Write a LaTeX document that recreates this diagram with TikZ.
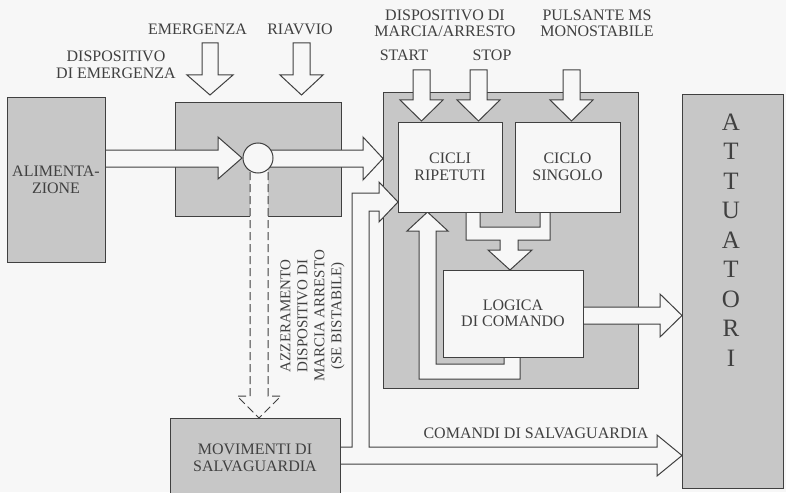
\documentclass[tikz,border=0pt]{standalone}
\usepackage{fontspec}
\setmainfont{Liberation Serif}
\definecolor{bg}{gray}{0.97}
\definecolor{shade}{gray}{0.78}
\definecolor{ink}{gray}{0.25}
\begin{document}
\begin{tikzpicture}[x=1pt,y=-1pt,
  every node/.style={text=ink, font=\fontsize{16}{16.5}\selectfont},
  graybox/.style={draw=ink, line width=1pt, fill=shade, inner sep=0pt, align=center},
  whitebox/.style={draw=ink, line width=1pt, fill=bg, inner sep=0pt, align=center},
  blockarrow/.style={draw=ink, line width=1pt, fill=bg, line join=miter},
  lbl/.style={align=center, inner sep=0pt}
]
\fill[bg] (0,0) rectangle (786,492);
\useasboundingbox (0,0) rectangle (786,492);

% background boxes
\node[graybox, minimum width=166pt, minimum height=113pt] (emerg) at (258,159.5) {};
\node[graybox, minimum width=255pt, minimum height=295pt] (main) at (510.5,240.5) {};

% input arrows from top
\draw[blockarrow] (202,43) -- (218,43) -- (218,75) -- (233,75) -- (210,95) -- (187,75) -- (202,75) -- cycle;
\draw[blockarrow] (293,43) -- (310,43) -- (310,75) -- (323,75) -- (301.5,95) -- (280,75) -- (293,75) -- cycle;
\draw[blockarrow] (413,70) -- (430,70) -- (430,100) -- (443,100) -- (421.5,121) -- (400,100) -- (413,100) -- cycle;
\draw[blockarrow] (470,70) -- (487,70) -- (487,100) -- (500,100) -- (478.5,121) -- (457,100) -- (470,100) -- cycle;
\draw[blockarrow] (563,70) -- (580,70) -- (580,100) -- (593,100) -- (571.5,121) -- (550,100) -- (563,100) -- cycle;

% alimentazione -> junction
\draw[blockarrow] (100,150) -- (218,150) -- (218,137) -- (242,158) -- (218,179) -- (218,167) -- (100,167) -- cycle;
% junction -> main
\draw[blockarrow] (258,150) -- (363,150) -- (363,137) -- (383,158.5) -- (363,180) -- (363,167) -- (258,167) -- cycle;

% dashed reset arrow
\fill[bg] (250,158) -- (250,396) -- (237,396) -- (259,418) -- (281,396) -- (268,396) -- (268,158) -- cycle;
\draw[ink, line width=1pt, dash pattern=on 8pt off 4pt] (250,172) -- (250,396) -- (237,396) -- (259,418) -- (281,396) -- (268,396) -- (268,172);

% movimenti -> cicli and -> attuatori
\draw[blockarrow] (335,447) -- (352,447) -- (352,193) -- (379,193) -- (379,182) -- (398,202) -- (379,222) -- (379,211) -- (369,211) -- (369,447) -- (657,447) -- (657,435) -- (682,455.5) -- (657,476) -- (657,464) -- (335,464) -- cycle;

% merge arrow cicli/ciclo -> logica
\draw[blockarrow] (466,205) -- (466,240) -- (500,240) -- (500,250) -- (488,250) -- (510,270) -- (532,250) -- (518,250) -- (518,240) -- (550,240) -- (550,205) -- (540,205) -- (540,227) -- (480,227) -- (480,205) -- cycle;

% feedback logica -> cicli
\draw[blockarrow] (504,350) -- (504,364) -- (436,364) -- (436,231) -- (448,231) -- (427.5,212) -- (407,231) -- (419,231) -- (419,379) -- (520,379) -- (520,350) -- cycle;

% logica -> attuatori
\draw[blockarrow] (575,307) -- (660,307) -- (660,294) -- (682,315.5) -- (660,337) -- (660,324) -- (575,324) -- cycle;

% foreground boxes
\node[graybox, minimum width=98pt, minimum height=164pt] (alim) at (56,180) {ALIMENTA-\\ZIONE};
\node[whitebox, minimum width=104pt, minimum height=90pt] (cicli) at (450,167) {CICLI\\RIPETUTI};
\node[whitebox, minimum width=105pt, minimum height=90pt] (ciclo) at (567.5,167) {CICLO\\SINGOLO};
\node[whitebox, minimum width=140pt, minimum height=87pt] (logica) at (513,313.5) {LOGICA\\DI COMANDO};
\node[graybox, minimum width=101pt, minimum height=393pt] (attu) at (732.5,291.5) {};
\node[lbl, font=\fontsize{25}{29.5}\selectfont] (attlbl) at (731,240) {A\\T\\T\\U\\A\\T\\O\\R\\I};
\node[graybox, minimum width=170pt, minimum height=80pt] (movim) at (255,458) {MOVIMENTI DI\\SALVAGUARDIA};
\node[circle, draw=ink, fill=bg, line width=1pt, minimum size=30pt, inner sep=0pt] (junc) at (258,158) {};

% labels
\node[lbl] (lemerg) at (197.5,29) {EMERGENZA};
\node[lbl] (lriav) at (300,29) {RIAVVIO};
\node[lbl] (ldispem) at (116,65) {DISPOSITIVO\\DI EMERGENZA};
\node[lbl] (ldispma) at (445,23.5) {DISPOSITIVO DI\\MARCIA/ARRESTO};
\node[lbl] (lstart) at (404,55) {START};
\node[lbl] (lstop) at (492,55) {STOP};
\node[lbl] (lpuls) at (597,23.5) {PULSANTE MS\\MONOSTABILE};
\node[lbl, rotate=90, font=\fontsize{15}{17}\selectfont] (lazz) at (312.5,316) {AZZERAMENTO\\DISPOSITIVO DI\\MARCIA ARRESTO\\(SE BISTABILE)};
\node[lbl] (lcomandi) at (536,433) {COMANDI DI SALVAGUARDIA};
\end{tikzpicture}
\end{document}
